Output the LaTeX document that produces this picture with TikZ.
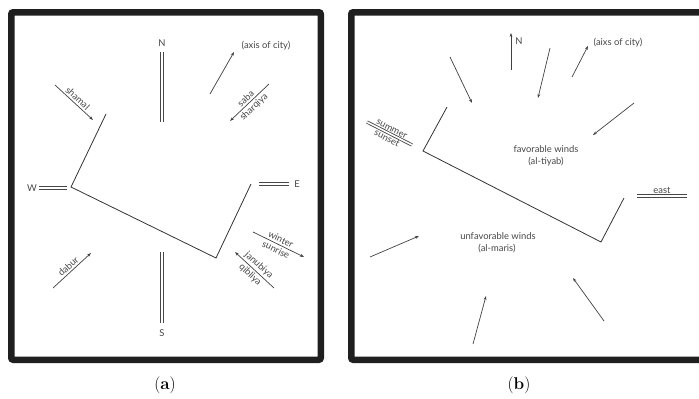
\documentclass[tikz,border=0pt]{standalone}
\usepackage{fontspec}
\newfontfamily\lblfont{Lato}
\usetikzlibrary{arrows.meta}
\begin{document}
\begin{tikzpicture}[x=1pt,y=-1pt,
  frame/.style={draw=black!88, line width=6.5pt, rounded corners=2pt},
  wall/.style={draw=black!80, line width=0.8pt},
  axisline/.style={draw=black!72, line width=0.85pt, double=white, double distance=1.6pt},
  wind/.style={draw=black!75, line width=0.7pt, -{Stealth[length=4pt,width=2.8pt]}},
  lbl/.style={text=black!72, font=\lblfont\fontsize{9.4}{10}\selectfont, inner sep=1pt},
  alongline/.style={lbl, sloped, inner sep=1.8pt},
  panelcap/.style={font=\fontsize{17}{19}\selectfont, inner sep=0pt}]
\useasboundingbox (0,0) rectangle (699,399);
\clip (0,0) rectangle (699,399);

% ---------- panel (a): wind names around the city ----------
\draw[frame] (11.25,12.25) rectangle (320.75,359.75);

% compass marks
\node[lbl] (nA) at (162,43) {N};
\coordinate (nA1) at (162,52);  \coordinate (nA2) at (162,122);
\draw[axisline] (nA1) -- (nA2);
\node[lbl] (sA) at (162,333) {S};
\coordinate (sA1) at (162,252); \coordinate (sA2) at (162,323);
\draw[axisline] (sA1) -- (sA2);
\node[lbl] (wA) at (32,188) {W};
\coordinate (wA1) at (39,188);  \coordinate (wA2) at (67,188);
\draw[axisline] (wA1) -- (wA2);
\node[lbl] (eA) at (297,184) {E};
\coordinate (eA1) at (259,184); \coordinate (eA2) at (289,184);
\draw[axisline] (eA1) -- (eA2);

% city axis
\node[lbl] (axA) at (266,46) {(axis of city)};
\coordinate (axA1) at (210,94); \coordinate (axA2) at (234,52);
\draw[wind] (axA1) -- (axA2);

% city outline
\coordinate (pA1) at (106,114); \coordinate (pA2) at (71,187);
\coordinate (pA3) at (216,258); \coordinate (pA4) at (251,184);
\draw[wall] (pA1) -- (pA2) -- (pA3) -- (pA4);

% winds
\coordinate (shA1) at (55,85);   \coordinate (shA2) at (93,120);
\draw[wind] (shA1) -- node[alongline,above] {shamal} (shA2);
\coordinate (sbA1) at (269,84);  \coordinate (sbA2) at (230,121);
\draw[wind] (sbA1) -- node[alongline,above] {saba} node[alongline,below] {sharqiya} (sbA2);
\coordinate (wiA1) at (253,232); \coordinate (wiA2) at (304,257);
\draw[wind] (wiA1) -- node[alongline,above] {winter} node[alongline,below] {sunrise} (wiA2);
\coordinate (jaA1) at (274,288); \coordinate (jaA2) at (235,252);
\draw[wind] (jaA1) -- node[alongline,above] {janubiya} node[alongline,below] {qibliya} (jaA2);
\coordinate (daA1) at (53,288);  \coordinate (daA2) at (91,253);
\draw[wind] (daA1) -- node[alongline,above] {dabur} (daA2);

\node[panelcap] (capA) at (165,385) {(\textbf{a})};

% ---------- panel (b): favourable and unfavourable winds ----------
\draw[frame] (351.25,12.25) rectangle (710,359.75);

\node[lbl] (nB) at (519,41) {N};
\coordinate (nB1) at (511,70); \coordinate (nB2) at (511,33);
\draw[wind] (nB1) -- (nB2);

\node[lbl] (axB) at (618,43) {(aixs of city)};
\coordinate (axB1) at (572,77); \coordinate (axB2) at (588,46);
\draw[wind] (axB1) -- (axB2);

% favourable winds from the north side
\coordinate (fB1a) at (450,57);  \coordinate (fB1b) at (472,103);
\coordinate (fB2a) at (550,48);  \coordinate (fB2b) at (538,98);
\coordinate (fB3a) at (634,103); \coordinate (fB3b) at (593,135);
\draw[wind] (fB1a) -- (fB1b);
\draw[wind] (fB2a) -- (fB2b);
\draw[wind] (fB3a) -- (fB3b);

% summer sunset bearing
\coordinate (suB1) at (367,122); \coordinate (suB2) at (412,145);
\draw[axisline] (suB1) -- node[alongline,above] {summer} node[alongline,below] {sunset} (suB2);

% east bearing
\coordinate (eaB1) at (637,196); \coordinate (eaB2) at (687,196);
\draw[axisline] (eaB1) -- node[lbl,above,inner sep=1.8pt] {east} (eaB2);

% city outline
\coordinate (pB1) at (447,107); \coordinate (pB2) at (423,151);
\coordinate (pB3) at (601,242); \coordinate (pB4) at (624,198);
\draw[wall] (pB1) -- (pB2) -- (pB3) -- (pB4);

\node[lbl] (favB) at (546,149) {favorable winds};
\node[lbl] (favB2) at (546,162) {(al-tiyab)};
\node[lbl] (unfB) at (498,236) {unfavorable winds};
\node[lbl] (unfB2) at (497,249) {(al-maris)};

% unfavourable winds from the south side
\coordinate (uB1a) at (370,257); \coordinate (uB1b) at (419,236);
\coordinate (uB2a) at (473,344); \coordinate (uB2b) at (486,296);
\coordinate (uB3a) at (604,321); \coordinate (uB3b) at (573,278);
\draw[wind] (uB1a) -- (uB1b);
\draw[wind] (uB2a) -- (uB2b);
\draw[wind] (uB3a) -- (uB3b);

\node[panelcap] (capB) at (519,385) {(\textbf{b})};
\end{tikzpicture}
\end{document}
